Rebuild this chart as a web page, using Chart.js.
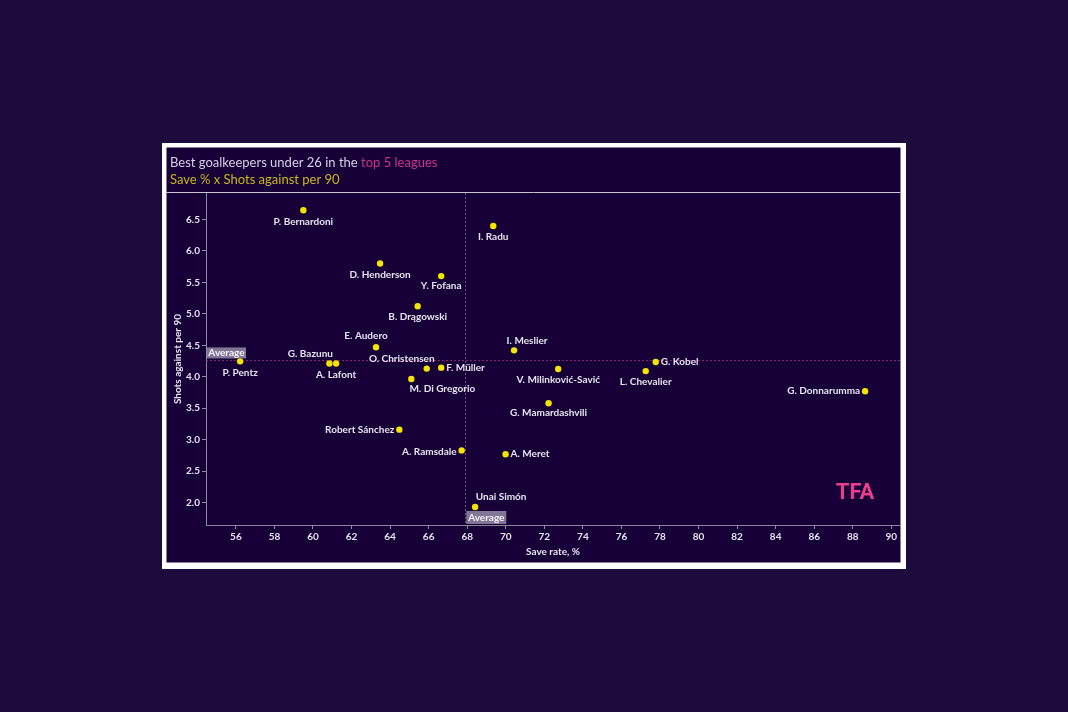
<!DOCTYPE html>
<html>
<head>
<meta charset="utf-8">
<script src="https://cdn.jsdelivr.net/npm/chart.js@4.4.1/dist/chart.umd.min.js"></script>
<style>
  html, body { margin: 0; padding: 0; background: #1e0b3d; }
  #wrap { width: 1068px; height: 712px; }
</style>
</head>
<body>
<div id="wrap"><canvas id="myChart"></canvas></div>
<script>
var PLAYERS = [
  'P. Bernardoni', 'I. Radu', 'D. Henderson', 'Y. Fofana', 'B. Drągowski',
  'E. Audero', 'I. Meslier', 'P. Pentz', 'G. Kobel', 'G. Bazunu',
  'A. Lafont', 'F. Müller', 'O. Christensen', 'V. Milinković-Savić', 'L. Chevalier',
  'M. Di Gregorio', 'G. Donnarumma', 'G. Mamardashvili', 'Robert Sánchez', 'A. Ramsdale',
  'A. Meret', 'Unai Simón'
];
var SAVE_RATE = [
  59.5, 69.35, 63.48, 66.65, 65.43,
  63.27, 70.43, 56.22, 77.78, 60.85,
  61.2, 66.65, 65.9, 72.72, 77.26,
  65.1, 88.64, 72.22, 64.48, 67.71,
  69.99, 68.41
];
var SHOTS_AGAINST = [
  6.645, 6.395, 5.80, 5.60, 5.12,
  4.47, 4.42, 4.245, 4.236, 4.21,
  4.21, 4.145, 4.13, 4.124, 4.09,
  3.965, 3.77, 3.58, 3.16, 2.83,
  2.77, 1.93
];
var AVG_SAVE = 67.9;
var AVG_SHOTS = 4.26;
var X_TICKS = [56, 58, 60, 62, 64, 66, 68, 70, 72, 74, 76, 78, 80, 82, 84, 86, 88, 90];
var Y_TICKS = [2.0, 2.5, 3.0, 3.5, 4.0, 4.5, 5.0, 5.5, 6.0, 6.5];

// where each name sits next to its dot: [dx, dy, align]
var LABEL_PLACE = [
  [0, 11, 'center'], [0, 11, 'center'], [0, 11, 'center'], [0, 10, 'center'], [0, 10, 'center'],
  [-10, -11, 'center'], [13, -10, 'center'], [0, 11, 'center'], [5, 0, 'left'], [-19, -10, 'center'],
  [0, 11, 'center'], [5, 0, 'left'], [-25, -10, 'center'], [0, 11, 'center'], [0, 11, 'center'],
  [31, 10, 'center'], [-5, 0, 'right'], [0, 10, 'center'], [-5, 0, 'right'], [-5, 1, 'right'],
  [5, 0, 'left'], [26, -10, 'center']
];

var PANEL_BG = '#170037';
var TEXT = '#e4e2ec';
var AXIS = '#8d87a0';
var FONT = 'Lato';

var points = SAVE_RATE.map(function (x, i) {
  return { x: x, y: SHOTS_AGAINST[i] };
});

var framePlugin = {
  id: 'frame',
  beforeDraw: function (chart) {
    var c = chart.ctx;
    c.save();
    c.fillStyle = '#ffffff';
    c.fillRect(162, 143, 744, 426);
    c.fillStyle = PANEL_BG;
    c.fillRect(166.5, 147.5, 734, 415);
    c.strokeStyle = '#c9c6d3';
    c.lineWidth = 1;
    c.beginPath();
    c.moveTo(166.5, 192.5);
    c.lineTo(900.5, 192.5);
    c.stroke();

    c.font = '13px ' + FONT;
    c.textBaseline = 'middle';
    c.textAlign = 'left';
    var first = 'Best goalkeepers under 26 in the ';
    c.fillStyle = '#d6d0e4';
    c.fillText(first, 170, 162.5);
    c.fillStyle = '#c9348c';
    c.fillText('top 5 leagues', 170 + c.measureText(first).width, 162.5);
    c.fillStyle = '#c8b818';
    c.fillText('Save % x Shots against per 90', 170, 180);
    c.restore();
  },
  beforeDatasetsDraw: function (chart) {
    var c = chart.ctx;
    var a = chart.chartArea;
    var ax = chart.scales.x.getPixelForValue(AVG_SAVE);
    var ay = chart.scales.y.getPixelForValue(AVG_SHOTS);
    c.save();
    c.lineWidth = 1;
    c.setLineDash([2, 2]);
    c.strokeStyle = 'rgba(170, 50, 130, 0.75)';
    c.beginPath();
    c.moveTo(a.left, Math.round(ay) + 0.5);
    c.lineTo(a.right, Math.round(ay) + 0.5);
    c.stroke();
    c.strokeStyle = 'rgba(140, 110, 170, 0.75)';
    c.beginPath();
    c.moveTo(Math.round(ax) + 0.5, a.top);
    c.lineTo(Math.round(ax) + 0.5, a.bottom);
    c.stroke();
    c.restore();
  },
  afterDatasetsDraw: function (chart) {
    var c = chart.ctx;
    var a = chart.chartArea;
    var xs = chart.scales.x, ys = chart.scales.y;
    c.save();
    c.font = 'bold 10px ' + FONT;
    c.textBaseline = 'middle';
    c.fillStyle = TEXT;
    PLAYERS.forEach(function (name, i) {
      var p = LABEL_PLACE[i];
      c.textAlign = p[2];
      c.fillText(name, xs.getPixelForValue(SAVE_RATE[i]) + p[0], ys.getPixelForValue(SHOTS_AGAINST[i]) + p[1]);
    });

    // average tags
    var ax = xs.getPixelForValue(AVG_SAVE);
    var ay = ys.getPixelForValue(AVG_SHOTS);
    c.fillStyle = 'rgba(200, 196, 214, 0.6)';
    c.fillRect(a.left + 1, ay - 13, 39, 11);
    c.fillRect(ax + 1, a.bottom - 14, 40, 13);
    c.fillStyle = '#f4f2f8';
    c.textAlign = 'center';
    c.fillText('Average', a.left + 20.5, ay - 7.5);
    c.fillText('Average', ax + 21, a.bottom - 7.5);

    // logo
    c.font = 'bold 22px Roboto';
    c.fillStyle = '#e83e8c';
    c.fillText('TFA', 855, 493);
    c.restore();
  }
};

var tickFont = { family: FONT, weight: 'bold', size: 10 };

const ctx = document.getElementById('myChart');
new Chart(ctx, {
  type: 'scatter',
  data: {
    datasets: [{
      data: points,
      pointRadius: 3.2,
      pointHoverRadius: 3.2,
      pointBorderWidth: 0,
      backgroundColor: '#f2e600',
      borderColor: '#f2e600'
    }]
  },
  options: {
    responsive: true,
    maintainAspectRatio: false,
    animation: false,
    layout: {
      padding: { left: 166, right: 168, top: 193, bottom: 147 }
    },
    plugins: {
      legend: { display: false },
      tooltip: { enabled: false }
    },
    scales: {
      x: {
        type: 'linear',
        min: 54.45,
        max: 90.45,
        afterBuildTicks: function (s) {
          s.ticks = X_TICKS.map(function (v) { return { value: v }; });
        },
        afterFit: function (s) { s.height = 40; },
        ticks: { color: TEXT, font: tickFont, padding: 2, autoSkip: false, maxRotation: 0 },
        grid: { drawOnChartArea: false, drawTicks: true, tickLength: 4, color: AXIS },
        border: { color: AXIS, width: 1 },
        title: {
          display: true,
          text: 'Save rate, %',
          color: TEXT,
          font: tickFont,
          padding: { top: 0, bottom: 7 }
        }
      },
      y: {
        type: 'linear',
        min: 1.645,
        max: 6.92,
        afterBuildTicks: function (s) {
          s.ticks = Y_TICKS.map(function (v) { return { value: v }; });
        },
        afterFit: function (s) { s.width = 40; },
        ticks: {
          color: TEXT,
          font: tickFont,
          padding: 2,
          autoSkip: false,
          callback: function (v) { return Number(v).toFixed(1); }
        },
        grid: { drawOnChartArea: false, drawTicks: true, tickLength: 4, color: AXIS },
        border: { color: AXIS, width: 1 },
        title: {
          display: true,
          text: 'Shots against per 90',
          color: TEXT,
          font: tickFont,
          padding: { top: 6, bottom: 0 }
        }
      }
    }
  },
  plugins: [framePlugin]
});
</script>
</body>
</html>
